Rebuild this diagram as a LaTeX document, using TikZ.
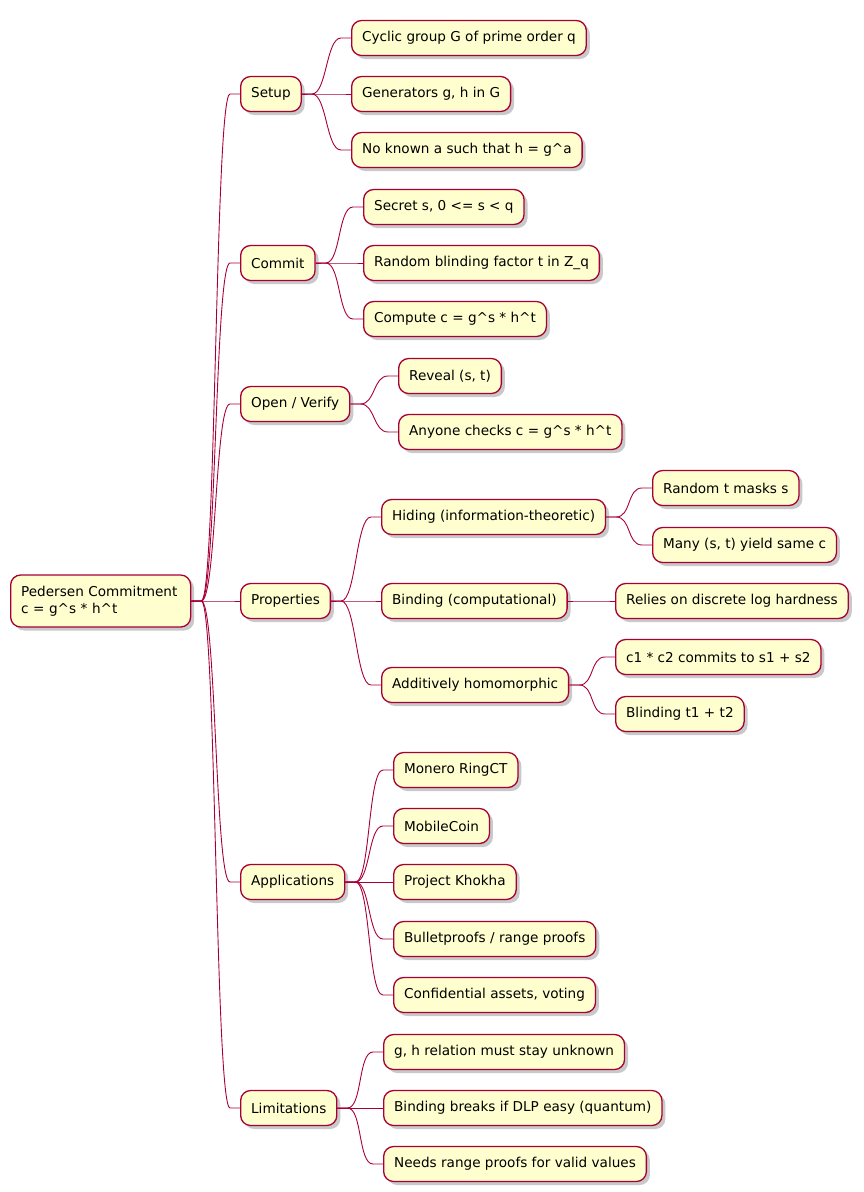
\documentclass[tikz,border=0pt]{standalone}
\usepackage{fontspec}
\setmainfont{DejaVu Sans}
\usetikzlibrary{shadows,calc}
\definecolor{pumlred}{HTML}{A80036}
\definecolor{pumlyellow}{HTML}{FEFECE}
\tikzset{
  mm/.style={draw=pumlred, fill=pumlyellow, line width=1.3pt, rounded corners=10pt,
    minimum height=35pt, inner xsep=10.5pt, inner ysep=4pt, anchor=west,
    font=\fontsize{13.6}{17}\selectfont, align=left,
    drop shadow={shadow xshift=3.5pt, shadow yshift=-3.5pt, fill=black!30, opacity=0.7}},
  link/.style={draw=pumlred, line width=0.9pt}
}
\newcommand{\crt}{\textasciicircum}
\begin{document}
\begin{tikzpicture}[x=1pt,y=-1pt]
\useasboundingbox (0,0) rectangle (863,1192);
% root
\node[mm, minimum height=52pt, text width=159pt] (root) at (10,601) {Pedersen Commitment\\c = g\crt s * h\crt t};
% level 1
\node[mm] (setup) at (240,94) {Setup};
\node[mm] (commit) at (240,263) {Commit};
\node[mm] (open) at (240,404) {Open / Verify};
\node[mm] (props) at (240,601) {Properties};
\node[mm] (apps) at (240,882) {Applications};
\node[mm] (lim) at (240,1108) {Limitations};
% setup
\node[mm] (s1) at (351,38) {Cyclic group G of prime order q};
\node[mm] (s2) at (351,94) {Generators g, h in G};
\node[mm] (s3) at (351,150) {No known a such that h = g\crt a};
% commit
\node[mm] (c1) at (363,207) {Secret s, 0 <= s < q};
\node[mm] (c2) at (363,263) {Random blinding factor t in Z\_q};
\node[mm] (c3) at (363,319) {Compute c = g\crt s * h\crt t};
% open
\node[mm] (o1) at (398,376) {Reveal (s, t)};
\node[mm] (o2) at (398,432) {Anyone checks c = g\crt s * h\crt t};
% properties
\node[mm] (p1) at (381,517) {Hiding (information-theoretic)};
\node[mm] (p2) at (381,601) {Binding (computational)};
\node[mm] (p3) at (381,685) {Additively homomorphic};
\node[mm] (h1) at (652,488) {Random t masks s};
\node[mm] (h2) at (652,545) {Many (s, t) yield same c};
\node[mm] (b1) at (615,601) {Relies on discrete log hardness};
\node[mm] (d1) at (615,657) {c1 * c2 commits to s1 + s2};
\node[mm] (d2) at (615,714) {Blinding t1 + t2};
% applications
\node[mm] (a1) at (393,770) {Monero RingCT};
\node[mm] (a2) at (393,826) {MobileCoin};
\node[mm] (a3) at (393,882) {Project Khokha};
\node[mm] (a4) at (393,939) {Bulletproofs / range proofs};
\node[mm] (a5) at (393,995) {Confidential assets, voting};
% limitations
\node[mm] (l1) at (383,1052) {g, h relation must stay unknown};
\node[mm] (l2) at (383,1108) {Binding breaks if DLP easy (quantum)};
\node[mm] (l3) at (383,1164) {Needs range proofs for valid values};
% connectors
\foreach \p/\c in {root/setup, root/commit, root/open, root/props, root/apps, root/lim,
  setup/s1, setup/s2, setup/s3, commit/c1, commit/c2, commit/c3, open/o1, open/o2,
  props/p1, props/p2, props/p3, p1/h1, p1/h2, p2/b1, p3/d1, p3/d2,
  apps/a1, apps/a2, apps/a3, apps/a4, apps/a5, lim/l1, lim/l2, lim/l3}
  \draw[link] (\p.east) -- ++(10,0) .. controls +(15,0) and +(-15,0) .. ([xshift=-10pt]\c.west) -- (\c.west);
\end{tikzpicture}
\end{document}
